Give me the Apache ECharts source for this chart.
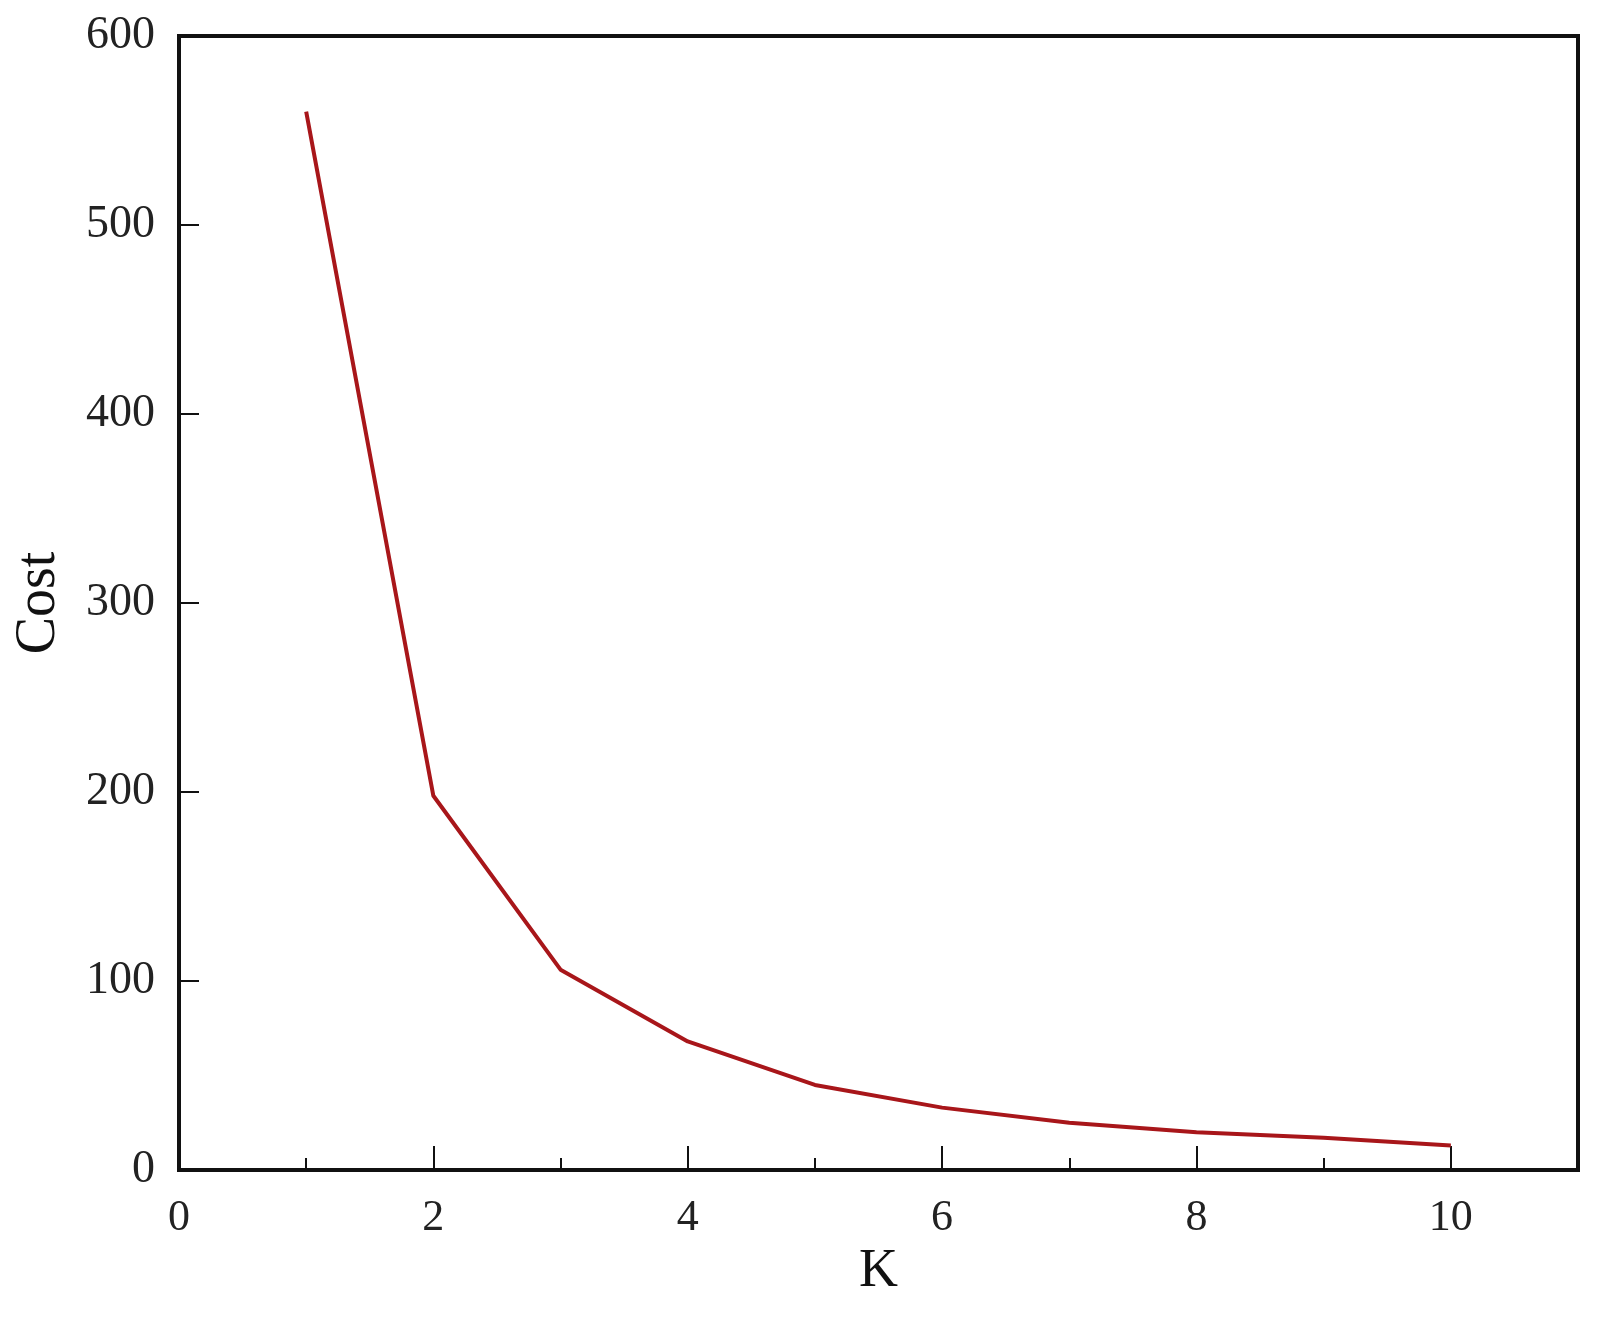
<!DOCTYPE html>
<html>
<head>
<meta charset="utf-8">
<script src="https://cdn.jsdelivr.net/npm/echarts@6/dist/echarts.min.js"></script>
<style>
html,body{margin:0;padding:0;background:#fff;}
#chart{width:1600px;height:1317px;}
</style>
</head>
<body>
<div id="chart"></div>
<script>
const kValues = [1, 2, 3, 4, 5, 6, 7, 8, 9, 10];
const costValues = [560, 198, 106, 68, 45, 33, 25, 20, 17, 13];
const xAxisTitle = 'K';
const yAxisTitle = 'Cost';

const font = '"Liberation Serif", "DejaVu Serif", serif';
const chart = echarts.init(document.getElementById('chart'));
chart.setOption({
  animation: false,
  backgroundColor: '#ffffff',
  grid: {
    left: 179, right: 22, top: 36, bottom: 147,
    show: true, borderColor: '#111', borderWidth: 4, backgroundColor: 'transparent'
  },
  xAxis: {
    type: 'value', min: 0, max: 11, interval: 2,
    name: xAxisTitle, nameLocation: 'middle', nameGap: 74,
    nameTextStyle: { fontFamily: font, fontSize: 54, color: '#111' },
    axisLine: { show: true, onZero: false, lineStyle: { color: '#111', width: 4 } },
    axisTick: { show: true, inside: true, length: 24, lineStyle: { color: '#111', width: 2 } },
    minorTick: { show: true, splitNumber: 2, length: 12, lineStyle: { color: '#111', width: 2 } },
    axisLabel: { show: true, margin: 26, fontFamily: font, fontSize: 44, color: '#222', showMaxLabel: false },
    splitLine: { show: false }
  },
  yAxis: {
    type: 'value', min: 0, max: 600, interval: 100,
    name: yAxisTitle, nameLocation: 'middle', nameGap: 112,
    nameTextStyle: { fontFamily: font, fontSize: 56, color: '#111' },
    axisLine: { show: true, lineStyle: { color: '#111', width: 4 } },
    axisTick: { show: true, inside: true, length: 20, lineStyle: { color: '#111', width: 2 } },
    axisLabel: { show: true, margin: 24, fontFamily: font, fontSize: 46, color: '#222' },
    splitLine: { show: false }
  },
  series: [{
    type: 'line',
    data: kValues.map((k, i) => [k, costValues[i]]),
    showSymbol: false,
    symbol: 'none',
    lineStyle: { color: '#a8161a', width: 4 },
    itemStyle: { color: '#a8161a' }
  }]
});
</script>
</body>
</html>
